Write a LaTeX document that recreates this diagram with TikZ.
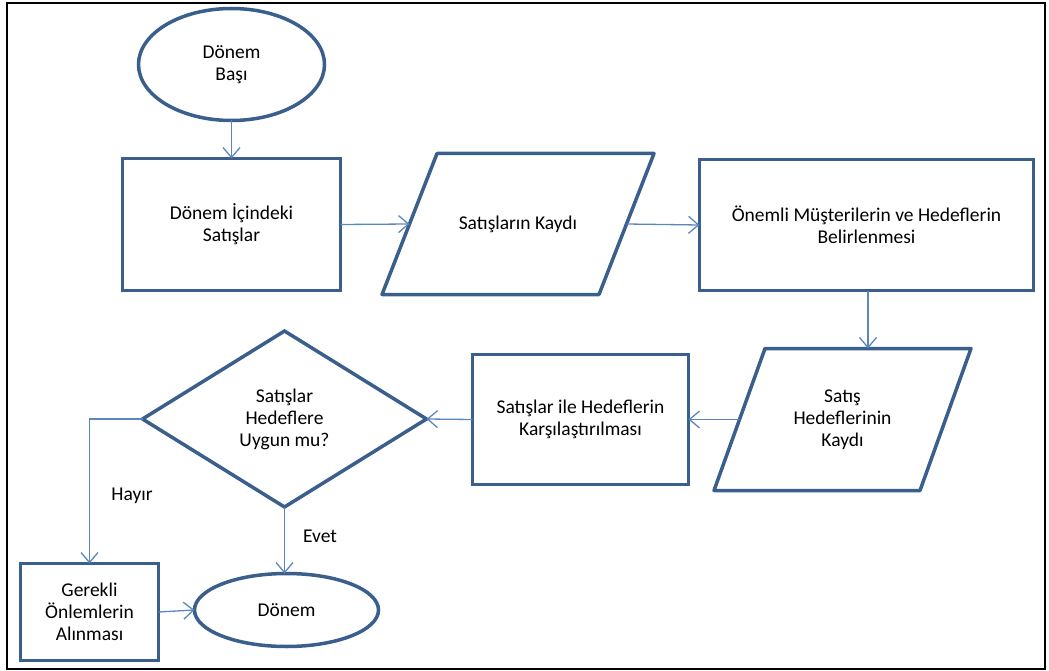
\documentclass[tikz,border=0pt]{standalone}
\usepackage{fontspec}
\setmainfont{Carlito}
\usetikzlibrary{shapes.geometric,arrows.meta}
\definecolor{shapeblue}{HTML}{3A5F8C}
\definecolor{arrowblue}{HTML}{5B87C0}
\tikzset{
  base/.style={draw=shapeblue, line width=3.5pt, fill=white, align=center, inner sep=0pt, outer sep=0pt,
    font=\fontsize{19.5pt}{22pt}\selectfont, text=black},
  boxnode/.style={base, rectangle},
  ellnode/.style={base, ellipse},
  dianode/.style={base, diamond},
  parnode/.style={align=center, inner sep=0pt, outer sep=0pt, rectangle,
    font=\fontsize{19.5pt}{22pt}\selectfont, text=black},
  parline/.style={draw=shapeblue, line width=3.5pt, line join=round},
  conn/.style={draw=arrowblue, line width=1.3pt, -{Straight Barb[length=10pt,width=17pt]}},
  lbl/.style={font=\fontsize{19.5pt}{22pt}\selectfont, text=black, inner sep=0pt},
}
\begin{document}
\begin{tikzpicture}[x=1pt,y=-1pt]
\useasboundingbox (0,0) rectangle (1049,671);
\draw[line width=2pt] (7,3) rectangle (1045,669);

\node[ellnode, minimum width=186, minimum height=112] (start) at (231.5,64.5) {Dönem\\Başı};
\node[boxnode, minimum width=218, minimum height=132] (sales) at (231.5,224.5) {Dönem İçindeki\\Satışlar};
\node[parnode, minimum width=217, minimum height=141] (rec) at (518,224) {Satışların Kaydı};
\node[boxnode, minimum width=334, minimum height=131] (goals) at (866.5,225) {Önemli Müşterilerin ve Hedeflerin\\Belirlenmesi};
\node[parnode, minimum width=206, minimum height=142] (trec) at (842.5,419.5) {Satış\\Hedeflerinin\\Kaydı};
\node[boxnode, minimum width=216, minimum height=130] (cmp) at (580.5,419.5) {Satışlar ile Hedeflerin\\Karşılaştırılması};
\node[dianode, minimum width=284, minimum height=176] (dec) at (284.5,419) {Satışlar\\Hedeflere\\Uygun mu?};
\node[boxnode, minimum width=138, minimum height=97] (act) at (89.5,612) {Gerekli\\Önlemlerin\\Alınması};
\node[ellnode, minimum width=184, minimum height=73] (end) at (286.5,610) {Dönem};

\draw[parline] ([xshift=27.5pt]rec.north west) -- ([xshift=27.5pt]rec.north east)
  -- ([xshift=-27.5pt]rec.south east) -- ([xshift=-27.5pt]rec.south west) -- cycle;
\draw[parline] ([xshift=25.5pt]trec.north west) -- ([xshift=25.5pt]trec.north east)
  -- ([xshift=-25.5pt]trec.south east) -- ([xshift=-25.5pt]trec.south west) -- cycle;

\draw[conn] (start.south) -- (sales.north);
\draw[conn] (sales.east) -- (rec.west);
\draw[conn] (rec.east) -- (goals.west);
\draw[conn] ([xshift=1.5pt]goals.south) -- ([xshift=1.5pt]goals.south |- trec.north);
\draw[conn] (trec.west) -- (cmp.east);
\draw[conn] (cmp.west) -- (dec.east);
\draw[conn] (dec.west) -| (act.north);
\draw[conn] (dec.south) -- (dec.south |- end.north);
\draw[conn] (act.east) -- (end.west);

\node[lbl] (hayir) at (132,496) {Hayır};
\node[lbl] (evet) at (320,536) {Evet};
\end{tikzpicture}
\end{document}
